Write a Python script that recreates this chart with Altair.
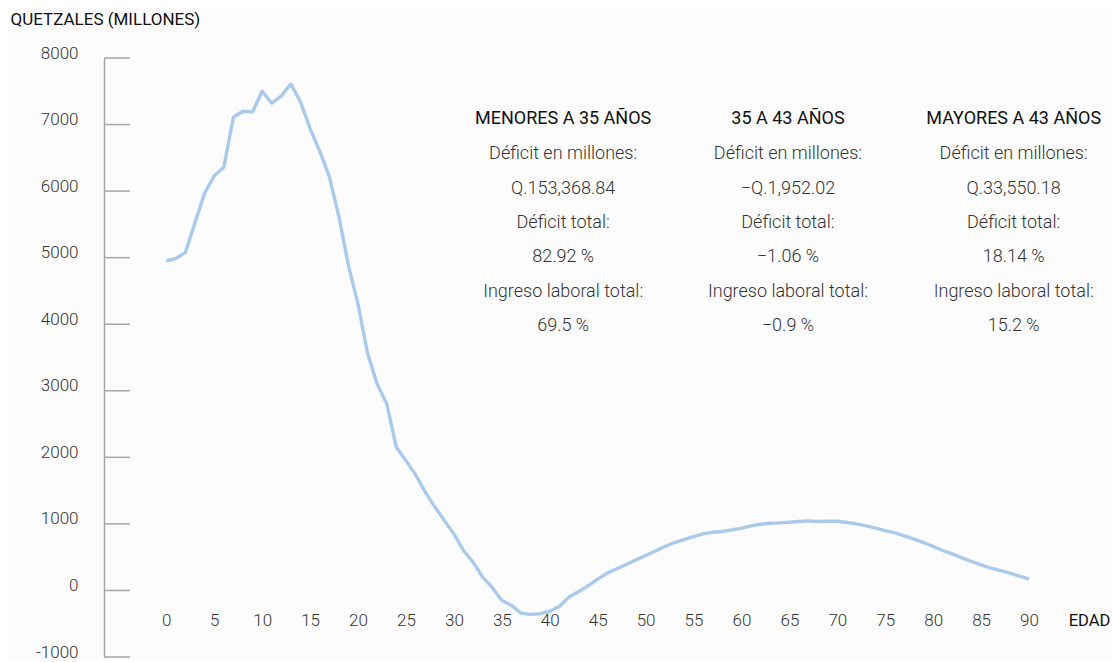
import altair as alt
import pandas as pd

# ---------------- data ----------------
ages = list(range(0, 91))
values = [
    4950, 4990, 5080, 5530, 5970, 6230, 6360, 7110, 7200, 7190,   # 0-9
    7500, 7320, 7430, 7610, 7340, 6940, 6600, 6220, 5620, 4880,   # 10-19
    4300, 3560, 3100, 2800, 2150, 1950, 1740, 1480, 1260, 1050,   # 20-29
    850, 600, 425, 200, 45, -150, -225, -340, -360, -350,         # 30-39
    -315, -240, -100, -20, 70, 170, 260, 325, 390, 460,           # 40-49
    525, 590, 660, 720, 765, 810, 850, 875, 885, 910,             # 50-59
    935, 970, 995, 1010, 1015, 1025, 1035, 1045, 1035, 1040,      # 60-69
    1040, 1020, 1000, 970, 935, 900, 865, 820, 770, 720,          # 70-79
    660, 600, 550, 490, 435, 385, 335, 300, 260, 215,             # 80-89
    170,                                                          # 90
]
y_ticks = [-1000, 0, 1000, 2000, 3000, 4000, 5000, 6000, 7000, 8000]
x_ticks = [0, 5, 10, 15, 20, 25, 30, 35, 40, 45, 50, 55, 60, 65, 70, 75, 80, 85, 90]

groups = ["MENORES A 35 AÑOS", "35 A 43 AÑOS", "MAYORES A 43 AÑOS"]
deficit_millones = ["Q.153,368.84", "\u2212Q.1,952.02", "Q.33,550.18"]
deficit_total = ["82.92 %", "\u22121.06 %", "18.14 %"]
ingreso_laboral = ["69.5 %", "\u22120.9 %", "15.2 %"]

# annotation anchors (in data units: age, quetzales)
group_age = [41.4, 64.85, 88.4]
header_level = 7090
body_level = 6551

# ---------------- tables ----------------
df = pd.DataFrame({"edad": ages, "valor": values})
df_ticks = pd.DataFrame({"valor": y_ticks})
body = [
    "\n".join(["Déficit en millones:", m, "Déficit total:", t, "Ingreso laboral total:", i])
    for m, t, i in zip(deficit_millones, deficit_total, ingreso_laboral)
]
df_head = pd.DataFrame({"edad": group_age, "valor": [header_level] * 3, "txt": groups})
df_body = pd.DataFrame({"edad": group_age, "valor": [body_level] * 3, "txt": body})

FONT = "Roboto"
AXIS_GREY = "#a6a6a6"

x_scale = alt.Scale(domain=[-6.5, 92.5], nice=False, zero=False)
y_scale = alt.Scale(domain=[-1000, 8000], nice=False, zero=False)

x_axis = alt.Axis(
    values=x_ticks, domain=False, ticks=False, tickSize=0, grid=False,
    labelPadding=0, labelBaseline="alphabetic", offset=-32,
    labelFont=FONT, labelFontSize=17, labelFontWeight=300, labelColor="#333333",
    title="EDAD", titleX=985, titleY=0, titleAlign="center", titleBaseline="alphabetic",
    titleFont=FONT, titleFontSize=16.5, titleFontWeight="normal", titleColor="#111111",
)
y_axis = alt.Axis(
    values=y_ticks, grid=False, ticks=False, tickSize=0,
    domainColor=AXIS_GREY, domainWidth=1.5,
    labelPadding=26, labelBaseline="alphabetic", labelExpr="'' + datum.value",
    labelFont=FONT, labelFontSize=17, labelFontWeight=300, labelColor="#333333",
    title="QUETZALES (MILLONES)", titleAngle=0, titleAlign="left", titleBaseline="alphabetic",
    titleX=-94, titleY=-34,
    titleFont=FONT, titleFontSize=17, titleFontWeight="normal", titleColor="#111111",
)

X = alt.X("edad:Q", scale=x_scale, axis=x_axis)
Y = alt.Y("valor:Q", scale=y_scale, axis=y_axis)

line = alt.Chart(df).mark_line(color="#a9caeb", strokeWidth=3.4, strokeJoin="round").encode(x=X, y=Y)

ticks = alt.Chart(df_ticks).mark_rule(color=AXIS_GREY, strokeWidth=1.5).encode(
    y=Y, x=alt.value(0), x2=alt.value(26)
)

heads = alt.Chart(df_head).mark_text(
    font=FONT, fontSize=18, color="#111111", align="center", baseline="middle"
).encode(x=X, y=Y, text="txt:N")

bodies = alt.Chart(df_body).mark_text(
    font=FONT, fontSize=18, fontWeight=300, color="#333333", align="center",
    baseline="middle", lineBreak="\n", lineHeight=34.3
).encode(x=X, y=Y, text="txt:N")

chart = alt.layer(ticks, line, heads, bodies).properties(
    width=949, height=599,
    padding={"left": 96, "top": 50, "right": 58, "bottom": 3},
    autosize=alt.AutoSizeParams(type="none"),
    background="#fcfcfc",
).configure_view(strokeWidth=0)

chart.save("out.html", embed_options={"renderer": "svg", "actions": False})
